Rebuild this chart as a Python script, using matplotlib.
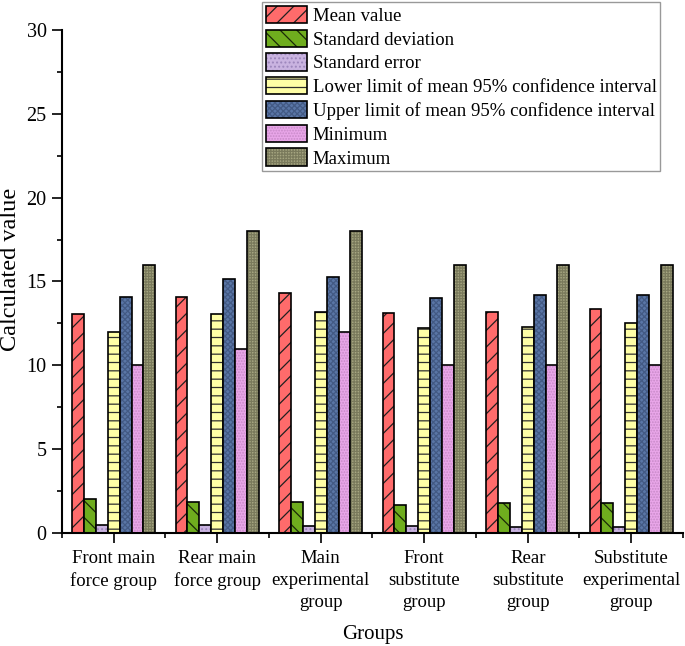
import numpy as np
import matplotlib
matplotlib.use('Agg')
import matplotlib.pyplot as plt
from matplotlib.patches import Patch
from matplotlib.legend_handler import HandlerTuple
from matplotlib.ticker import MultipleLocator

groups = ['Front main\nforce group', 'Rear main\nforce group', 'Main\nexperimental\ngroup',
          'Front\nsubstitute\ngroup', 'Rear\nsubstitute\ngroup', 'Substitute\nexperimental\ngroup']

mean_value = [13.05, 14.1, 14.3, 13.1, 13.2, 13.35]
std_dev = [2.0, 1.83, 1.83, 1.68, 1.77, 1.77]
std_err = [0.47, 0.45, 0.42, 0.4, 0.38, 0.38]
lower_ci = [12.0, 13.05, 13.2, 12.2, 12.3, 12.5]
upper_ci = [14.05, 15.15, 15.25, 14.03, 14.2, 14.2]
minimum = [10, 11, 12, 10, 10, 10]
maximum = [16, 18, 18, 16, 16, 16]

series_names = ['Mean value', 'Standard deviation', 'Standard error',
                'Lower limit of mean 95% confidence interval',
                'Upper limit of mean 95% confidence interval', 'Minimum', 'Maximum']
series = [mean_value, std_dev, std_err, lower_ci, upper_ci, minimum, maximum]
fills = ['#ff6b6b', '#6fad1e', '#c9b3e0', '#ffffa6', '#5a76a6', '#e9a6e9', '#a6a681']
hatches = ['//', '\\\\', '....', '--', 'xxxxxx', '......', '++++++']
hatch_cols = ['#202020', '#1a2a08', '#9c86bc', '#303030', '#435a84', '#c88ac8', '#7a7a5c']

plt.rcParams['font.family'] = ['Liberation Serif', 'DejaVu Serif']
plt.rcParams['hatch.linewidth'] = 0.9

fig = plt.figure(figsize=(6.85, 6.46), dpi=100)
ax = fig.add_axes([0.0905, 0.175, 0.9065, 0.7786])

x = np.arange(1, len(groups) + 1)
width = 0.115
handles = []
for i, (name, vals) in enumerate(zip(series_names, series)):
    pos = x + (i - 3) * width
    ax.bar(pos, vals, width, color=fills[i], hatch=hatches[i], edgecolor=hatch_cols[i], linewidth=0)
    ax.bar(pos, vals, width, fill=False, edgecolor='black', linewidth=1.2)
    handles.append((Patch(facecolor=fills[i], hatch=hatches[i], edgecolor=hatch_cols[i], linewidth=0),
                    Patch(fill=False, edgecolor='black', linewidth=1.2)))

ax.set_xlim(0.5, 6.5)
ax.set_ylim(0, 30)
ax.set_xticks(x)
ax.set_xticklabels(groups, fontsize=13.5, linespacing=1.4)
ax.xaxis.set_minor_locator(MultipleLocator(1, offset=0.5))
ax.yaxis.set_major_locator(MultipleLocator(5))
ax.yaxis.set_minor_locator(MultipleLocator(2.5))
ax.tick_params(axis='y', which='major', length=7, width=1.2, labelsize=14.5, pad=4)
ax.tick_params(axis='y', which='minor', length=3.5, width=1.2)
ax.tick_params(axis='x', which='major', length=7, width=1.2, pad=5)
ax.tick_params(axis='x', which='minor', length=3.5, width=1.2)
for s in ['top', 'right']:
    ax.spines[s].set_visible(False)
for s in ['left', 'bottom']:
    ax.spines[s].set_linewidth(1.5)

ax.set_xlabel('Groups', fontsize=15, labelpad=10)
ax.set_ylabel('Calculated value', fontsize=17.5)
ax.yaxis.set_label_coords(-0.066, 0.525)

leg = ax.legend(handles, series_names, handler_map={tuple: HandlerTuple(ndivide=1, pad=0)},
                loc='upper left', bbox_to_anchor=(262 / 685, 1 - 2 / 646),
                bbox_transform=fig.transFigure, fontsize=13.5, frameon=True, fancybox=False,
                handlelength=2.2, handleheight=1.05, handletextpad=0.3, labelspacing=0.25,
                borderpad=0.2, borderaxespad=0)
leg.get_frame().set_edgecolor('#808080')
leg.get_frame().set_linewidth(1.0)

fig.savefig('out.png', dpi=100)
